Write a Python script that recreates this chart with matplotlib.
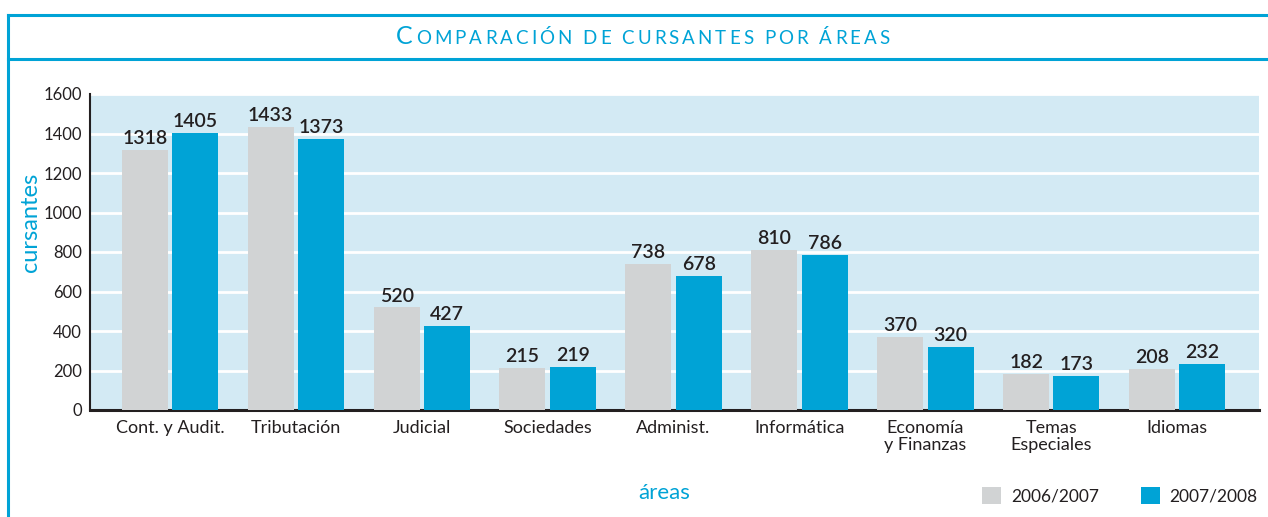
import matplotlib
matplotlib.use('Agg')
import matplotlib.pyplot as plt
import numpy as np
from matplotlib.lines import Line2D
from matplotlib.patches import Patch
from matplotlib.offsetbox import TextArea, HPacker, AnchoredOffsetbox

# Data
areas = ['Cont. y Audit.', 'Tributación', 'Judicial', 'Sociedades', 'Administ.',
         'Informática', 'Economía\ny Finanzas', 'Temas\nEspeciales', 'Idiomas']
cursantes_0607 = [1318, 1433, 520, 215, 738, 810, 370, 182, 208]
cursantes_0708 = [1405, 1373, 427, 219, 678, 786, 320, 173, 232]
series_labels = ['2006/2007', '2007/2008']
y_ticks = [0, 200, 400, 600, 800, 1000, 1200, 1400, 1600]

# Colours
cyan = '#00A3D6'
gray = '#D1D3D4'
bg = '#D3EAF4'
dark = '#231F20'

plt.rcParams['font.family'] = ['Lato', 'DejaVu Sans']

W, H = 1268, 517
fig = plt.figure(figsize=(W / 100, H / 100), dpi=100)
ax = fig.add_axes([90 / W, 1 - 410 / H, (1259 - 90) / W, (410 - 94) / H])

x = np.arange(len(areas))
bw = 0.365
off = 0.2
b1 = ax.bar(x - off, cursantes_0607, bw, color=gray, zorder=3)
b2 = ax.bar(x + off, cursantes_0708, bw, color=cyan, zorder=3)

# value labels
for bars, vals in ((b1, cursantes_0607), (b2, cursantes_0708)):
    for rect, v in zip(bars, vals):
        ax.annotate(str(v), (rect.get_x() + rect.get_width() / 2, v),
                    xytext=(0, 2), textcoords='offset points',
                    ha='center', va='bottom', fontsize=14, fontweight='semibold',
                    color=dark, zorder=4)

ax.set_facecolor(bg)
ax.set_xlim(-0.635, 8.65)
ax.set_ylim(0, 1600)
ax.set_yticks(y_ticks)
ax.set_yticklabels([str(t) for t in y_ticks], fontsize=12, color=dark)
ax.set_xticks(x)
ax.set_xticklabels(areas, fontsize=13, color=dark, linespacing=1.1)
ax.tick_params(length=0)
ax.tick_params(axis='y', pad=6)
ax.tick_params(axis='x', pad=7)
ax.grid(axis='y', color='white', linewidth=2, zorder=1)
ax.set_axisbelow(True)
for s in ('top', 'right'):
    ax.spines[s].set_visible(False)
ax.spines['left'].set_linewidth(1.5)
ax.spines['left'].set_color(dark)
ax.spines['bottom'].set_linewidth(2.2)
ax.spines['bottom'].set_color(dark)

# axis titles
fig.text(30 / W, 1 - 222 / H, 'cursantes', rotation=90, ha='center', va='center',
         fontsize=17, color=cyan)
fig.text(664 / W, 1 - 493 / H, 'áreas', ha='center', va='center',
         fontsize=16, color=cyan)

# legend
handles = [Patch(facecolor=gray, edgecolor='none'), Patch(facecolor=cyan, edgecolor='none')]
fig.legend(handles, series_labels, loc='center right',
           bbox_to_anchor=(1273 / W, 1 - 496 / H), ncol=2, frameon=False,
           fontsize=12.5, handlelength=1.1, handleheight=1.1,
           handletextpad=0.55, columnspacing=2.4, labelcolor=dark)

# frame lines
fig.add_artist(Line2D([8 / W, 1], [1 - 15 / H, 1 - 15 / H], color=cyan, lw=2.2))
fig.add_artist(Line2D([8 / W, 1], [1 - 59 / H, 1 - 59 / H], color=cyan, lw=2.2))
fig.add_artist(Line2D([8 / W, 8 / W], [0, 1 - 15 / H], color=cyan, lw=2.2))

# title in small caps
title = 'Comparación de cursantes por áreas'
parts = []
for word_i, word in enumerate(title.split(' ')):
    if word_i > 0:
        parts.append(TextArea(' ', textprops=dict(fontsize=13, color=cyan)))
    for ci, ch in enumerate(word):
        if word_i == 0 and ci == 0:
            parts.append(TextArea(ch.upper(), textprops=dict(fontsize=18, color=cyan)))
        else:
            parts.append(TextArea(ch.upper(), textprops=dict(fontsize=13.5, color=cyan)))
packer = HPacker(children=parts, align='baseline', pad=0, sep=2.2)
abox = AnchoredOffsetbox(loc='center', child=packer, frameon=False, pad=0,
                         bbox_to_anchor=(643 / W, 1 - 36 / H),
                         bbox_transform=fig.transFigure, borderpad=0)
fig.add_artist(abox)

fig.savefig('out.png', dpi=100, facecolor='white')
